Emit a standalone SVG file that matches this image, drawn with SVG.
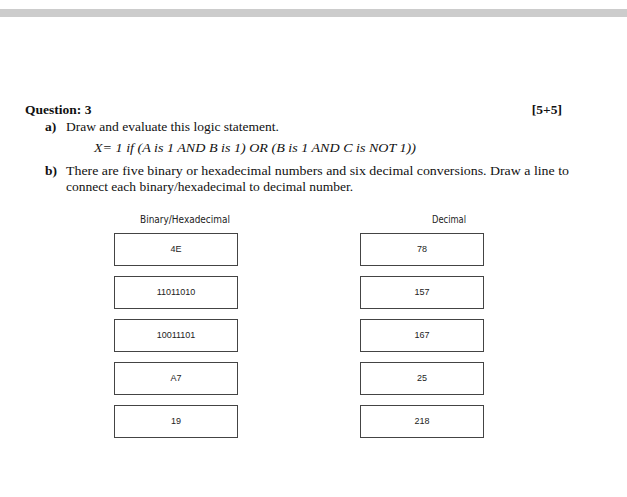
<svg xmlns="http://www.w3.org/2000/svg" width="627" height="497" viewBox="0 0 627 497">
<style>
.t{font-family:"Liberation Serif",serif;font-size:13.5px;fill:#111}
.b{font-weight:bold}
.h{font-family:"DejaVu Sans Condensed","Liberation Sans Narrow",sans-serif;font-size:11px;fill:#222;text-anchor:middle}
.box rect{fill:#fff;stroke:#444;stroke-width:1}
.box text{font-family:"Liberation Sans",sans-serif;font-size:9px;fill:#222;text-anchor:middle}
</style>
<rect width="627" height="497" fill="#fff"/>
<rect x="0" y="9" width="627" height="8" fill="#cccccc"/>
<text class="t b" x="25" y="114">Question: 3</text>
<text class="t b" x="562" y="114" text-anchor="end">[5+5]</text>
<text class="t b" x="45" y="131">a)</text>
<text class="t" x="66" y="131">Draw and evaluate this logic statement.</text>
<text class="t" x="94" y="152" font-style="italic" textLength="322" lengthAdjust="spacingAndGlyphs">X= 1 if (A is 1 AND B is 1) OR (B is 1 AND C is NOT 1))</text>
<text class="t b" x="45" y="175">b)</text>
<text class="t" x="66" y="175" textLength="503" lengthAdjust="spacingAndGlyphs">There are five binary or hexadecimal numbers and six decimal conversions. Draw a line to</text>
<text class="t" x="66" y="191">connect each binary/hexadecimal to decimal number.</text>
<text class="h" x="185" y="223" textLength="90" lengthAdjust="spacingAndGlyphs">Binary/Hexadecimal</text>
<text class="h" x="449" y="223" textLength="34" lengthAdjust="spacingAndGlyphs">Decimal</text>
<g id="n-4E" class="box"><rect x="114.5" y="233.5" width="123" height="32"/><text x="176" y="252">4E</text></g>
<g id="n-11011010" class="box"><rect x="114.5" y="276.5" width="123" height="32"/><text x="176" y="295">11011010</text></g>
<g id="n-10011101" class="box"><rect x="114.5" y="319.5" width="123" height="32"/><text x="176" y="338">10011101</text></g>
<g id="n-A7" class="box"><rect x="114.5" y="362.5" width="123" height="32"/><text x="176" y="381">A7</text></g>
<g id="n-19" class="box"><rect x="114.5" y="405.5" width="123" height="32"/><text x="176" y="424">19</text></g>
<g id="n-78" class="box"><rect x="360.5" y="233.5" width="123" height="32"/><text x="422" y="252">78</text></g>
<g id="n-157" class="box"><rect x="360.5" y="276.5" width="123" height="32"/><text x="422" y="295">157</text></g>
<g id="n-167" class="box"><rect x="360.5" y="319.5" width="123" height="32"/><text x="422" y="338">167</text></g>
<g id="n-25" class="box"><rect x="360.5" y="362.5" width="123" height="32"/><text x="422" y="381">25</text></g>
<g id="n-218" class="box"><rect x="360.5" y="405.5" width="123" height="32"/><text x="422" y="424">218</text></g>
<g id="connectors"></g>
</svg>
